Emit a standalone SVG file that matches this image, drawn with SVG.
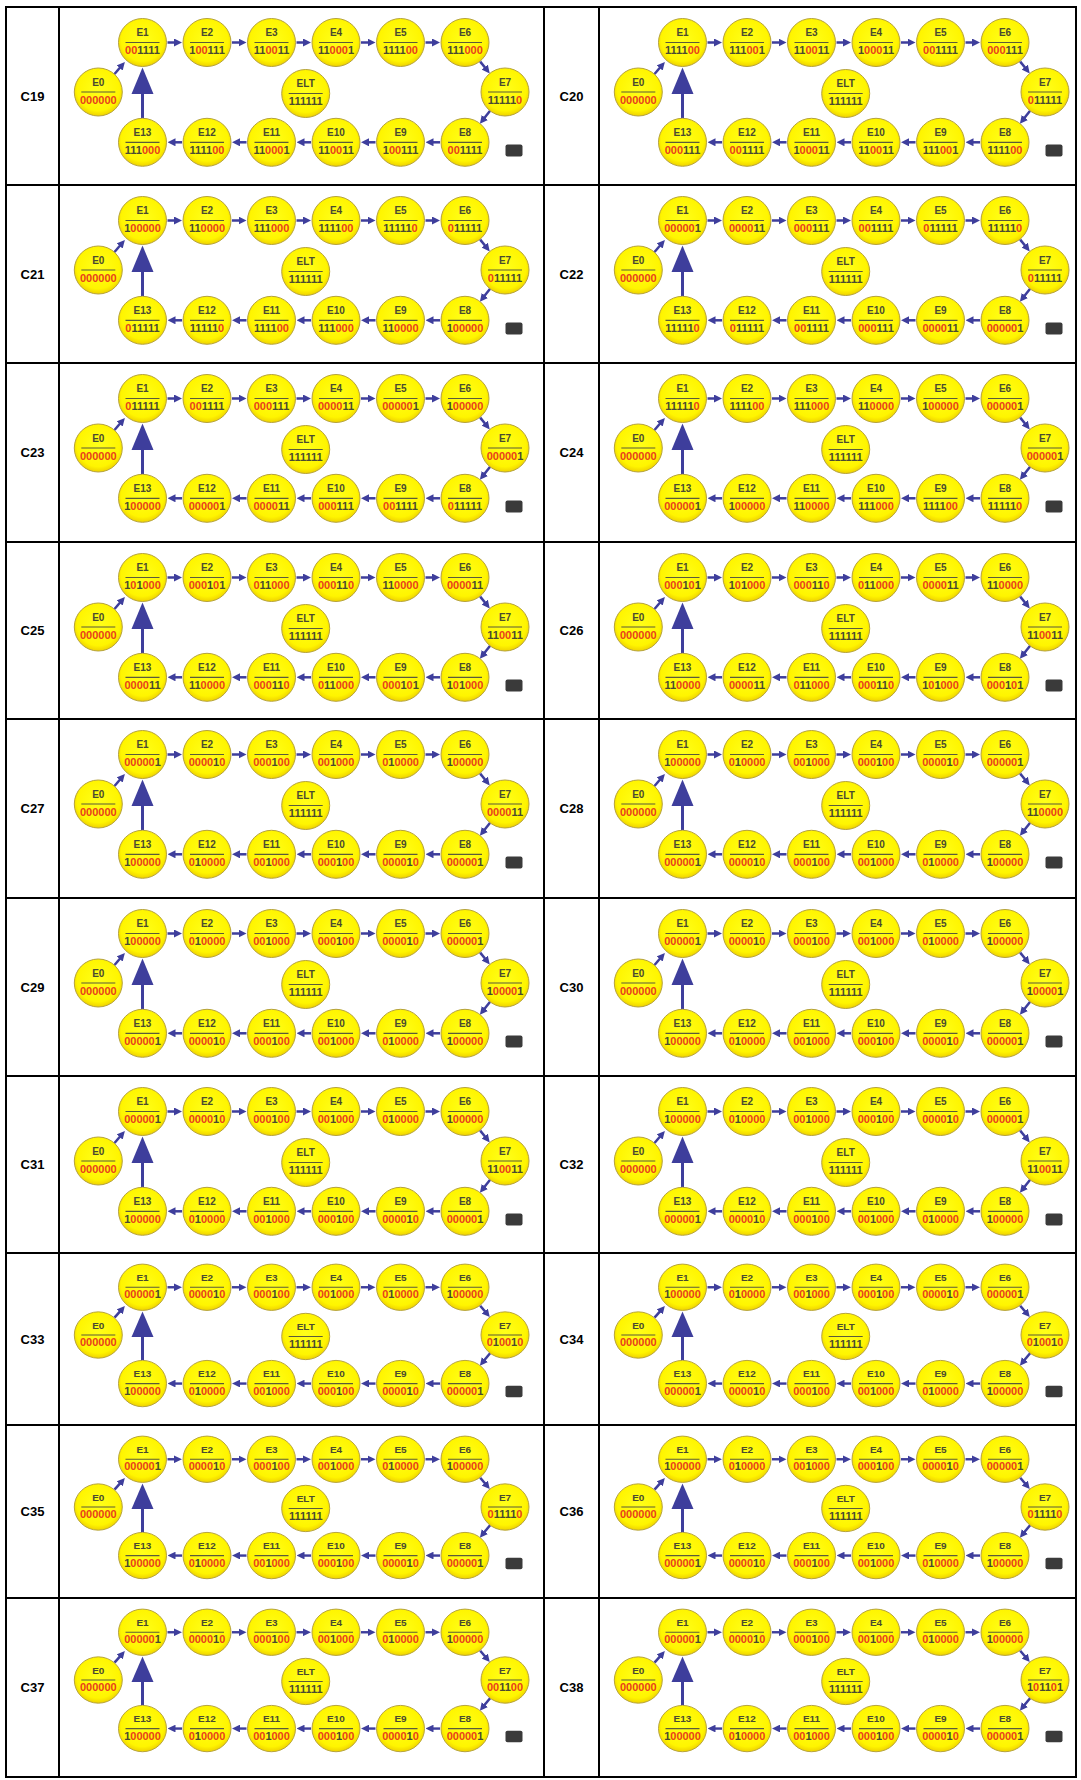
<svg xmlns="http://www.w3.org/2000/svg" xmlns:xlink="http://www.w3.org/1999/xlink" width="1081" height="1780" viewBox="0 0 1081 1780">
<style>
.l{font:bold 10px "Liberation Sans",Arial,sans-serif;fill:#4a4a30;text-anchor:middle}
.v{font:bold 11px "Liberation Sans",Arial,sans-serif;fill:#4a4a30;text-anchor:middle}
.z{fill:#e8401c}
.lab{font:bold 13px "Liberation Sans",Arial,sans-serif;fill:#000;text-anchor:middle}
.cn{stroke:#3e3e9c;stroke-width:2.5;fill:none}
.ic{fill:#3a3a3a}
.grid{stroke:#000;stroke-width:2;fill:none}
</style>
<defs>
<radialGradient id="yg" cx="50%" cy="45%" r="55%"><stop offset="0" stop-color="#ffff1a"/><stop offset="0.8" stop-color="#fff500"/><stop offset="1" stop-color="#efd200"/></radialGradient>
<marker id="ah" viewBox="0 0 8 8" refX="3" refY="4" markerWidth="8" markerHeight="8" markerUnits="userSpaceOnUse" orient="auto"><path d="M0,0 L8,4 L0,8 z" fill="#3e3e9c"/></marker>
<g id="b"><circle r="24" fill="url(#yg)" stroke="#b5a23c" stroke-width="1"/><line x1="-17" y1="0" x2="17" y2="0" stroke="#5b5b3b" stroke-width="1.2"/></g>
<g id="cn">
<path class="cn" marker-end="url(#ah)" d="M167.5,35.5H177"/>
<path class="cn" marker-end="url(#ah)" d="M232,35.5H241.5"/>
<path class="cn" marker-end="url(#ah)" d="M296.5,35.5H306"/>
<path class="cn" marker-end="url(#ah)" d="M361,35.5H370.5"/>
<path class="cn" marker-end="url(#ah)" d="M425.5,35.5H435"/>
<path class="cn" marker-end="url(#ah)" d="M440,135.3H430.5"/>
<path class="cn" marker-end="url(#ah)" d="M375.5,135.3H366"/>
<path class="cn" marker-end="url(#ah)" d="M311,135.3H301.5"/>
<path class="cn" marker-end="url(#ah)" d="M246.5,135.3H237"/>
<path class="cn" marker-end="url(#ah)" d="M182,135.3H172.5"/>
<path class="cn" marker-end="url(#ah)" d="M114.5,67L121.6,58.7"/>
<path class="cn" marker-end="url(#ah)" d="M480.2,54.6L486.6,62.5"/>
<path class="cn" marker-end="url(#ah)" d="M490.1,103.8L483,112.8"/>
<path class="cn" style="stroke-width:3" d="M142.5,111V86"/>
<path d="M142.5,60.5L153.5,87L131.5,87z" fill="#3e3e9c"/>
</g>
</defs>
<rect width="1081" height="1780" fill="#fff"/>
<g id="table">
<rect class="grid" x="6" y="7" width="1070" height="1770"/>
<path class="grid" d="M6,185H1076M6,363H1076M6,542H1076M6,719H1076M6,898H1076M6,1076H1076M6,1253H1076M6,1425H1076M6,1598H1076M59,7V1777M544,7V1777M599,7V1777"/>
</g>
<g id="labels">
<text class="lab" x="32.5" y="100.5">C19</text><text class="lab" x="571.5" y="100.5">C20</text>
<text class="lab" x="32.5" y="278.5">C21</text><text class="lab" x="571.5" y="278.5">C22</text>
<text class="lab" x="32.5" y="457">C23</text><text class="lab" x="571.5" y="457">C24</text>
<text class="lab" x="32.5" y="635">C25</text><text class="lab" x="571.5" y="635">C26</text>
<text class="lab" x="32.5" y="813">C27</text><text class="lab" x="571.5" y="813">C28</text>
<text class="lab" x="32.5" y="991.5">C29</text><text class="lab" x="571.5" y="991.5">C30</text>
<text class="lab" x="32.5" y="1169">C31</text><text class="lab" x="571.5" y="1169">C32</text>
<text class="lab" x="32.5" y="1343.5">C33</text><text class="lab" x="571.5" y="1343.5">C34</text>
<text class="lab" x="32.5" y="1516">C35</text><text class="lab" x="571.5" y="1516">C36</text>
<text class="lab" x="32.5" y="1692">C37</text><text class="lab" x="571.5" y="1692">C38</text>
</g>
<g id="connectors">
<use href="#cn" transform="translate(0,7)"/><use href="#cn" transform="translate(540,7)"/>
<use href="#cn" transform="translate(0,185)"/><use href="#cn" transform="translate(540,185)"/>
<use href="#cn" transform="translate(0,363)"/><use href="#cn" transform="translate(540,363)"/>
<use href="#cn" transform="translate(0,542)"/><use href="#cn" transform="translate(540,542)"/>
<use href="#cn" transform="translate(0,719)"/><use href="#cn" transform="translate(540,719)"/>
<use href="#cn" transform="translate(0,898)"/><use href="#cn" transform="translate(540,898)"/>
<use href="#cn" transform="translate(0,1076)"/><use href="#cn" transform="translate(540,1076)"/>
<use href="#cn" transform="translate(0,1253) scale(1,0.965)"/><use href="#cn" transform="translate(540,1253) scale(1,0.965)"/>
<use href="#cn" transform="translate(0,1425) scale(1,0.965)"/><use href="#cn" transform="translate(540,1425) scale(1,0.965)"/>
<use href="#cn" transform="translate(0,1598) scale(1,0.965)"/><use href="#cn" transform="translate(540,1598) scale(1,0.965)"/>
</g>

<g id="c19" transform="translate(0,7)">
<g id="c19-e0" transform="translate(98.3,85)"><use href="#b"/><text class="l" y="-6.5">E0</text><text class="v" y="11.5"><tspan class="z">000000</tspan></text></g>
<g id="c19-e1" transform="translate(142.5,35.5)"><use href="#b"/><text class="l" y="-6.5">E1</text><text class="v" y="11.5"><tspan class="z">00</tspan>1111</text></g>
<g id="c19-e2" transform="translate(207,35.5)"><use href="#b"/><text class="l" y="-6.5">E2</text><text class="v" y="11.5">1<tspan class="z">00</tspan>111</text></g>
<g id="c19-e3" transform="translate(271.5,35.5)"><use href="#b"/><text class="l" y="-6.5">E3</text><text class="v" y="11.5">11<tspan class="z">00</tspan>11</text></g>
<g id="c19-e4" transform="translate(336,35.5)"><use href="#b"/><text class="l" y="-6.5">E4</text><text class="v" y="11.5">11<tspan class="z">000</tspan>1</text></g>
<g id="c19-e5" transform="translate(400.5,35.5)"><use href="#b"/><text class="l" y="-6.5">E5</text><text class="v" y="11.5">1111<tspan class="z">00</tspan></text></g>
<g id="c19-e6" transform="translate(465,35.5)"><use href="#b"/><text class="l" y="-6.5">E6</text><text class="v" y="11.5">111<tspan class="z">000</tspan></text></g>
<g id="c19-e7" transform="translate(505,85)"><use href="#b"/><text class="l" y="-6.5">E7</text><text class="v" y="11.5">11111<tspan class="z">0</tspan></text></g>
<g id="c19-e8" transform="translate(465,135.3)"><use href="#b"/><text class="l" y="-6.5">E8</text><text class="v" y="11.5"><tspan class="z">00</tspan>1111</text></g>
<g id="c19-e9" transform="translate(400.5,135.3)"><use href="#b"/><text class="l" y="-6.5">E9</text><text class="v" y="11.5">1<tspan class="z">00</tspan>111</text></g>
<g id="c19-e10" transform="translate(336,135.3)"><use href="#b"/><text class="l" y="-6.5">E10</text><text class="v" y="11.5">11<tspan class="z">00</tspan>11</text></g>
<g id="c19-e11" transform="translate(271.5,135.3)"><use href="#b"/><text class="l" y="-6.5">E11</text><text class="v" y="11.5">11<tspan class="z">000</tspan>1</text></g>
<g id="c19-e12" transform="translate(207,135.3)"><use href="#b"/><text class="l" y="-6.5">E12</text><text class="v" y="11.5">1111<tspan class="z">00</tspan></text></g>
<g id="c19-e13" transform="translate(142.5,135.3)"><use href="#b"/><text class="l" y="-6.5">E13</text><text class="v" y="11.5">111<tspan class="z">000</tspan></text></g>
<g id="c19-elt" transform="translate(305.7,86.5)"><use href="#b"/><text class="l" y="-6.5">ELT</text><text class="v" y="11.5">111111</text></g>
<rect class="ic" x="505.5" y="137.5" width="17" height="12" rx="2"/>
</g>

<g id="c20" transform="translate(540,7)">
<g id="c20-e0" transform="translate(98.3,85)"><use href="#b"/><text class="l" y="-6.5">E0</text><text class="v" y="11.5"><tspan class="z">000000</tspan></text></g>
<g id="c20-e1" transform="translate(142.5,35.5)"><use href="#b"/><text class="l" y="-6.5">E1</text><text class="v" y="11.5">1111<tspan class="z">00</tspan></text></g>
<g id="c20-e2" transform="translate(207,35.5)"><use href="#b"/><text class="l" y="-6.5">E2</text><text class="v" y="11.5">111<tspan class="z">00</tspan>1</text></g>
<g id="c20-e3" transform="translate(271.5,35.5)"><use href="#b"/><text class="l" y="-6.5">E3</text><text class="v" y="11.5">11<tspan class="z">00</tspan>11</text></g>
<g id="c20-e4" transform="translate(336,35.5)"><use href="#b"/><text class="l" y="-6.5">E4</text><text class="v" y="11.5">1<tspan class="z">000</tspan>11</text></g>
<g id="c20-e5" transform="translate(400.5,35.5)"><use href="#b"/><text class="l" y="-6.5">E5</text><text class="v" y="11.5"><tspan class="z">00</tspan>1111</text></g>
<g id="c20-e6" transform="translate(465,35.5)"><use href="#b"/><text class="l" y="-6.5">E6</text><text class="v" y="11.5"><tspan class="z">000</tspan>111</text></g>
<g id="c20-e7" transform="translate(505,85)"><use href="#b"/><text class="l" y="-6.5">E7</text><text class="v" y="11.5"><tspan class="z">0</tspan>11111</text></g>
<g id="c20-e8" transform="translate(465,135.3)"><use href="#b"/><text class="l" y="-6.5">E8</text><text class="v" y="11.5">1111<tspan class="z">00</tspan></text></g>
<g id="c20-e9" transform="translate(400.5,135.3)"><use href="#b"/><text class="l" y="-6.5">E9</text><text class="v" y="11.5">111<tspan class="z">00</tspan>1</text></g>
<g id="c20-e10" transform="translate(336,135.3)"><use href="#b"/><text class="l" y="-6.5">E10</text><text class="v" y="11.5">11<tspan class="z">00</tspan>11</text></g>
<g id="c20-e11" transform="translate(271.5,135.3)"><use href="#b"/><text class="l" y="-6.5">E11</text><text class="v" y="11.5">1<tspan class="z">000</tspan>11</text></g>
<g id="c20-e12" transform="translate(207,135.3)"><use href="#b"/><text class="l" y="-6.5">E12</text><text class="v" y="11.5"><tspan class="z">00</tspan>1111</text></g>
<g id="c20-e13" transform="translate(142.5,135.3)"><use href="#b"/><text class="l" y="-6.5">E13</text><text class="v" y="11.5"><tspan class="z">000</tspan>111</text></g>
<g id="c20-elt" transform="translate(305.7,86.5)"><use href="#b"/><text class="l" y="-6.5">ELT</text><text class="v" y="11.5">111111</text></g>
<rect class="ic" x="505.5" y="137.5" width="17" height="12" rx="2"/>
</g>

<g id="c21" transform="translate(0,185)">
<g id="c21-e0" transform="translate(98.3,85)"><use href="#b"/><text class="l" y="-6.5">E0</text><text class="v" y="11.5"><tspan class="z">000000</tspan></text></g>
<g id="c21-e1" transform="translate(142.5,35.5)"><use href="#b"/><text class="l" y="-6.5">E1</text><text class="v" y="11.5">1<tspan class="z">00000</tspan></text></g>
<g id="c21-e2" transform="translate(207,35.5)"><use href="#b"/><text class="l" y="-6.5">E2</text><text class="v" y="11.5">11<tspan class="z">0000</tspan></text></g>
<g id="c21-e3" transform="translate(271.5,35.5)"><use href="#b"/><text class="l" y="-6.5">E3</text><text class="v" y="11.5">111<tspan class="z">000</tspan></text></g>
<g id="c21-e4" transform="translate(336,35.5)"><use href="#b"/><text class="l" y="-6.5">E4</text><text class="v" y="11.5">1111<tspan class="z">00</tspan></text></g>
<g id="c21-e5" transform="translate(400.5,35.5)"><use href="#b"/><text class="l" y="-6.5">E5</text><text class="v" y="11.5">11111<tspan class="z">0</tspan></text></g>
<g id="c21-e6" transform="translate(465,35.5)"><use href="#b"/><text class="l" y="-6.5">E6</text><text class="v" y="11.5"><tspan class="z">0</tspan>11111</text></g>
<g id="c21-e7" transform="translate(505,85)"><use href="#b"/><text class="l" y="-6.5">E7</text><text class="v" y="11.5"><tspan class="z">0</tspan>11111</text></g>
<g id="c21-e8" transform="translate(465,135.3)"><use href="#b"/><text class="l" y="-6.5">E8</text><text class="v" y="11.5">1<tspan class="z">00000</tspan></text></g>
<g id="c21-e9" transform="translate(400.5,135.3)"><use href="#b"/><text class="l" y="-6.5">E9</text><text class="v" y="11.5">11<tspan class="z">0000</tspan></text></g>
<g id="c21-e10" transform="translate(336,135.3)"><use href="#b"/><text class="l" y="-6.5">E10</text><text class="v" y="11.5">111<tspan class="z">000</tspan></text></g>
<g id="c21-e11" transform="translate(271.5,135.3)"><use href="#b"/><text class="l" y="-6.5">E11</text><text class="v" y="11.5">1111<tspan class="z">00</tspan></text></g>
<g id="c21-e12" transform="translate(207,135.3)"><use href="#b"/><text class="l" y="-6.5">E12</text><text class="v" y="11.5">11111<tspan class="z">0</tspan></text></g>
<g id="c21-e13" transform="translate(142.5,135.3)"><use href="#b"/><text class="l" y="-6.5">E13</text><text class="v" y="11.5"><tspan class="z">0</tspan>11111</text></g>
<g id="c21-elt" transform="translate(305.7,86.5)"><use href="#b"/><text class="l" y="-6.5">ELT</text><text class="v" y="11.5">111111</text></g>
<rect class="ic" x="505.5" y="137.5" width="17" height="12" rx="2"/>
</g>

<g id="c22" transform="translate(540,185)">
<g id="c22-e0" transform="translate(98.3,85)"><use href="#b"/><text class="l" y="-6.5">E0</text><text class="v" y="11.5"><tspan class="z">000000</tspan></text></g>
<g id="c22-e1" transform="translate(142.5,35.5)"><use href="#b"/><text class="l" y="-6.5">E1</text><text class="v" y="11.5"><tspan class="z">00000</tspan>1</text></g>
<g id="c22-e2" transform="translate(207,35.5)"><use href="#b"/><text class="l" y="-6.5">E2</text><text class="v" y="11.5"><tspan class="z">0000</tspan>11</text></g>
<g id="c22-e3" transform="translate(271.5,35.5)"><use href="#b"/><text class="l" y="-6.5">E3</text><text class="v" y="11.5"><tspan class="z">000</tspan>111</text></g>
<g id="c22-e4" transform="translate(336,35.5)"><use href="#b"/><text class="l" y="-6.5">E4</text><text class="v" y="11.5"><tspan class="z">00</tspan>1111</text></g>
<g id="c22-e5" transform="translate(400.5,35.5)"><use href="#b"/><text class="l" y="-6.5">E5</text><text class="v" y="11.5"><tspan class="z">0</tspan>11111</text></g>
<g id="c22-e6" transform="translate(465,35.5)"><use href="#b"/><text class="l" y="-6.5">E6</text><text class="v" y="11.5">11111<tspan class="z">0</tspan></text></g>
<g id="c22-e7" transform="translate(505,85)"><use href="#b"/><text class="l" y="-6.5">E7</text><text class="v" y="11.5"><tspan class="z">0</tspan>11111</text></g>
<g id="c22-e8" transform="translate(465,135.3)"><use href="#b"/><text class="l" y="-6.5">E8</text><text class="v" y="11.5"><tspan class="z">00000</tspan>1</text></g>
<g id="c22-e9" transform="translate(400.5,135.3)"><use href="#b"/><text class="l" y="-6.5">E9</text><text class="v" y="11.5"><tspan class="z">0000</tspan>11</text></g>
<g id="c22-e10" transform="translate(336,135.3)"><use href="#b"/><text class="l" y="-6.5">E10</text><text class="v" y="11.5"><tspan class="z">000</tspan>111</text></g>
<g id="c22-e11" transform="translate(271.5,135.3)"><use href="#b"/><text class="l" y="-6.5">E11</text><text class="v" y="11.5"><tspan class="z">00</tspan>1111</text></g>
<g id="c22-e12" transform="translate(207,135.3)"><use href="#b"/><text class="l" y="-6.5">E12</text><text class="v" y="11.5"><tspan class="z">0</tspan>11111</text></g>
<g id="c22-e13" transform="translate(142.5,135.3)"><use href="#b"/><text class="l" y="-6.5">E13</text><text class="v" y="11.5">11111<tspan class="z">0</tspan></text></g>
<g id="c22-elt" transform="translate(305.7,86.5)"><use href="#b"/><text class="l" y="-6.5">ELT</text><text class="v" y="11.5">111111</text></g>
<rect class="ic" x="505.5" y="137.5" width="17" height="12" rx="2"/>
</g>

<g id="c23" transform="translate(0,363)">
<g id="c23-e0" transform="translate(98.3,85)"><use href="#b"/><text class="l" y="-6.5">E0</text><text class="v" y="11.5"><tspan class="z">000000</tspan></text></g>
<g id="c23-e1" transform="translate(142.5,35.5)"><use href="#b"/><text class="l" y="-6.5">E1</text><text class="v" y="11.5"><tspan class="z">0</tspan>11111</text></g>
<g id="c23-e2" transform="translate(207,35.5)"><use href="#b"/><text class="l" y="-6.5">E2</text><text class="v" y="11.5"><tspan class="z">00</tspan>1111</text></g>
<g id="c23-e3" transform="translate(271.5,35.5)"><use href="#b"/><text class="l" y="-6.5">E3</text><text class="v" y="11.5"><tspan class="z">000</tspan>111</text></g>
<g id="c23-e4" transform="translate(336,35.5)"><use href="#b"/><text class="l" y="-6.5">E4</text><text class="v" y="11.5"><tspan class="z">0000</tspan>11</text></g>
<g id="c23-e5" transform="translate(400.5,35.5)"><use href="#b"/><text class="l" y="-6.5">E5</text><text class="v" y="11.5"><tspan class="z">00000</tspan>1</text></g>
<g id="c23-e6" transform="translate(465,35.5)"><use href="#b"/><text class="l" y="-6.5">E6</text><text class="v" y="11.5">1<tspan class="z">00000</tspan></text></g>
<g id="c23-e7" transform="translate(505,85)"><use href="#b"/><text class="l" y="-6.5">E7</text><text class="v" y="11.5"><tspan class="z">00000</tspan>1</text></g>
<g id="c23-e8" transform="translate(465,135.3)"><use href="#b"/><text class="l" y="-6.5">E8</text><text class="v" y="11.5"><tspan class="z">0</tspan>11111</text></g>
<g id="c23-e9" transform="translate(400.5,135.3)"><use href="#b"/><text class="l" y="-6.5">E9</text><text class="v" y="11.5"><tspan class="z">00</tspan>1111</text></g>
<g id="c23-e10" transform="translate(336,135.3)"><use href="#b"/><text class="l" y="-6.5">E10</text><text class="v" y="11.5"><tspan class="z">000</tspan>111</text></g>
<g id="c23-e11" transform="translate(271.5,135.3)"><use href="#b"/><text class="l" y="-6.5">E11</text><text class="v" y="11.5"><tspan class="z">0000</tspan>11</text></g>
<g id="c23-e12" transform="translate(207,135.3)"><use href="#b"/><text class="l" y="-6.5">E12</text><text class="v" y="11.5"><tspan class="z">00000</tspan>1</text></g>
<g id="c23-e13" transform="translate(142.5,135.3)"><use href="#b"/><text class="l" y="-6.5">E13</text><text class="v" y="11.5">1<tspan class="z">00000</tspan></text></g>
<g id="c23-elt" transform="translate(305.7,86.5)"><use href="#b"/><text class="l" y="-6.5">ELT</text><text class="v" y="11.5">111111</text></g>
<rect class="ic" x="505.5" y="137.5" width="17" height="12" rx="2"/>
</g>

<g id="c24" transform="translate(540,363)">
<g id="c24-e0" transform="translate(98.3,85)"><use href="#b"/><text class="l" y="-6.5">E0</text><text class="v" y="11.5"><tspan class="z">000000</tspan></text></g>
<g id="c24-e1" transform="translate(142.5,35.5)"><use href="#b"/><text class="l" y="-6.5">E1</text><text class="v" y="11.5">11111<tspan class="z">0</tspan></text></g>
<g id="c24-e2" transform="translate(207,35.5)"><use href="#b"/><text class="l" y="-6.5">E2</text><text class="v" y="11.5">1111<tspan class="z">00</tspan></text></g>
<g id="c24-e3" transform="translate(271.5,35.5)"><use href="#b"/><text class="l" y="-6.5">E3</text><text class="v" y="11.5">111<tspan class="z">000</tspan></text></g>
<g id="c24-e4" transform="translate(336,35.5)"><use href="#b"/><text class="l" y="-6.5">E4</text><text class="v" y="11.5">11<tspan class="z">0000</tspan></text></g>
<g id="c24-e5" transform="translate(400.5,35.5)"><use href="#b"/><text class="l" y="-6.5">E5</text><text class="v" y="11.5">1<tspan class="z">00000</tspan></text></g>
<g id="c24-e6" transform="translate(465,35.5)"><use href="#b"/><text class="l" y="-6.5">E6</text><text class="v" y="11.5"><tspan class="z">00000</tspan>1</text></g>
<g id="c24-e7" transform="translate(505,85)"><use href="#b"/><text class="l" y="-6.5">E7</text><text class="v" y="11.5"><tspan class="z">00000</tspan>1</text></g>
<g id="c24-e8" transform="translate(465,135.3)"><use href="#b"/><text class="l" y="-6.5">E8</text><text class="v" y="11.5">11111<tspan class="z">0</tspan></text></g>
<g id="c24-e9" transform="translate(400.5,135.3)"><use href="#b"/><text class="l" y="-6.5">E9</text><text class="v" y="11.5">1111<tspan class="z">00</tspan></text></g>
<g id="c24-e10" transform="translate(336,135.3)"><use href="#b"/><text class="l" y="-6.5">E10</text><text class="v" y="11.5">111<tspan class="z">000</tspan></text></g>
<g id="c24-e11" transform="translate(271.5,135.3)"><use href="#b"/><text class="l" y="-6.5">E11</text><text class="v" y="11.5">11<tspan class="z">0000</tspan></text></g>
<g id="c24-e12" transform="translate(207,135.3)"><use href="#b"/><text class="l" y="-6.5">E12</text><text class="v" y="11.5">1<tspan class="z">00000</tspan></text></g>
<g id="c24-e13" transform="translate(142.5,135.3)"><use href="#b"/><text class="l" y="-6.5">E13</text><text class="v" y="11.5"><tspan class="z">00000</tspan>1</text></g>
<g id="c24-elt" transform="translate(305.7,86.5)"><use href="#b"/><text class="l" y="-6.5">ELT</text><text class="v" y="11.5">111111</text></g>
<rect class="ic" x="505.5" y="137.5" width="17" height="12" rx="2"/>
</g>

<g id="c25" transform="translate(0,542)">
<g id="c25-e0" transform="translate(98.3,85)"><use href="#b"/><text class="l" y="-6.5">E0</text><text class="v" y="11.5"><tspan class="z">000000</tspan></text></g>
<g id="c25-e1" transform="translate(142.5,35.5)"><use href="#b"/><text class="l" y="-6.5">E1</text><text class="v" y="11.5">1<tspan class="z">0</tspan>1<tspan class="z">000</tspan></text></g>
<g id="c25-e2" transform="translate(207,35.5)"><use href="#b"/><text class="l" y="-6.5">E2</text><text class="v" y="11.5"><tspan class="z">000</tspan>1<tspan class="z">0</tspan>1</text></g>
<g id="c25-e3" transform="translate(271.5,35.5)"><use href="#b"/><text class="l" y="-6.5">E3</text><text class="v" y="11.5"><tspan class="z">0</tspan>11<tspan class="z">000</tspan></text></g>
<g id="c25-e4" transform="translate(336,35.5)"><use href="#b"/><text class="l" y="-6.5">E4</text><text class="v" y="11.5"><tspan class="z">000</tspan>11<tspan class="z">0</tspan></text></g>
<g id="c25-e5" transform="translate(400.5,35.5)"><use href="#b"/><text class="l" y="-6.5">E5</text><text class="v" y="11.5">11<tspan class="z">0000</tspan></text></g>
<g id="c25-e6" transform="translate(465,35.5)"><use href="#b"/><text class="l" y="-6.5">E6</text><text class="v" y="11.5"><tspan class="z">0000</tspan>11</text></g>
<g id="c25-e7" transform="translate(505,85)"><use href="#b"/><text class="l" y="-6.5">E7</text><text class="v" y="11.5">11<tspan class="z">00</tspan>11</text></g>
<g id="c25-e8" transform="translate(465,135.3)"><use href="#b"/><text class="l" y="-6.5">E8</text><text class="v" y="11.5">1<tspan class="z">0</tspan>1<tspan class="z">000</tspan></text></g>
<g id="c25-e9" transform="translate(400.5,135.3)"><use href="#b"/><text class="l" y="-6.5">E9</text><text class="v" y="11.5"><tspan class="z">000</tspan>1<tspan class="z">0</tspan>1</text></g>
<g id="c25-e10" transform="translate(336,135.3)"><use href="#b"/><text class="l" y="-6.5">E10</text><text class="v" y="11.5"><tspan class="z">0</tspan>11<tspan class="z">000</tspan></text></g>
<g id="c25-e11" transform="translate(271.5,135.3)"><use href="#b"/><text class="l" y="-6.5">E11</text><text class="v" y="11.5"><tspan class="z">000</tspan>11<tspan class="z">0</tspan></text></g>
<g id="c25-e12" transform="translate(207,135.3)"><use href="#b"/><text class="l" y="-6.5">E12</text><text class="v" y="11.5">11<tspan class="z">0000</tspan></text></g>
<g id="c25-e13" transform="translate(142.5,135.3)"><use href="#b"/><text class="l" y="-6.5">E13</text><text class="v" y="11.5"><tspan class="z">0000</tspan>11</text></g>
<g id="c25-elt" transform="translate(305.7,86.5)"><use href="#b"/><text class="l" y="-6.5">ELT</text><text class="v" y="11.5">111111</text></g>
<rect class="ic" x="505.5" y="137.5" width="17" height="12" rx="2"/>
</g>

<g id="c26" transform="translate(540,542)">
<g id="c26-e0" transform="translate(98.3,85)"><use href="#b"/><text class="l" y="-6.5">E0</text><text class="v" y="11.5"><tspan class="z">000000</tspan></text></g>
<g id="c26-e1" transform="translate(142.5,35.5)"><use href="#b"/><text class="l" y="-6.5">E1</text><text class="v" y="11.5"><tspan class="z">000</tspan>1<tspan class="z">0</tspan>1</text></g>
<g id="c26-e2" transform="translate(207,35.5)"><use href="#b"/><text class="l" y="-6.5">E2</text><text class="v" y="11.5">1<tspan class="z">0</tspan>1<tspan class="z">000</tspan></text></g>
<g id="c26-e3" transform="translate(271.5,35.5)"><use href="#b"/><text class="l" y="-6.5">E3</text><text class="v" y="11.5"><tspan class="z">000</tspan>11<tspan class="z">0</tspan></text></g>
<g id="c26-e4" transform="translate(336,35.5)"><use href="#b"/><text class="l" y="-6.5">E4</text><text class="v" y="11.5"><tspan class="z">0</tspan>11<tspan class="z">000</tspan></text></g>
<g id="c26-e5" transform="translate(400.5,35.5)"><use href="#b"/><text class="l" y="-6.5">E5</text><text class="v" y="11.5"><tspan class="z">0000</tspan>11</text></g>
<g id="c26-e6" transform="translate(465,35.5)"><use href="#b"/><text class="l" y="-6.5">E6</text><text class="v" y="11.5">11<tspan class="z">0000</tspan></text></g>
<g id="c26-e7" transform="translate(505,85)"><use href="#b"/><text class="l" y="-6.5">E7</text><text class="v" y="11.5">11<tspan class="z">00</tspan>11</text></g>
<g id="c26-e8" transform="translate(465,135.3)"><use href="#b"/><text class="l" y="-6.5">E8</text><text class="v" y="11.5"><tspan class="z">000</tspan>1<tspan class="z">0</tspan>1</text></g>
<g id="c26-e9" transform="translate(400.5,135.3)"><use href="#b"/><text class="l" y="-6.5">E9</text><text class="v" y="11.5">1<tspan class="z">0</tspan>1<tspan class="z">000</tspan></text></g>
<g id="c26-e10" transform="translate(336,135.3)"><use href="#b"/><text class="l" y="-6.5">E10</text><text class="v" y="11.5"><tspan class="z">000</tspan>11<tspan class="z">0</tspan></text></g>
<g id="c26-e11" transform="translate(271.5,135.3)"><use href="#b"/><text class="l" y="-6.5">E11</text><text class="v" y="11.5"><tspan class="z">0</tspan>11<tspan class="z">000</tspan></text></g>
<g id="c26-e12" transform="translate(207,135.3)"><use href="#b"/><text class="l" y="-6.5">E12</text><text class="v" y="11.5"><tspan class="z">0000</tspan>11</text></g>
<g id="c26-e13" transform="translate(142.5,135.3)"><use href="#b"/><text class="l" y="-6.5">E13</text><text class="v" y="11.5">11<tspan class="z">0000</tspan></text></g>
<g id="c26-elt" transform="translate(305.7,86.5)"><use href="#b"/><text class="l" y="-6.5">ELT</text><text class="v" y="11.5">111111</text></g>
<rect class="ic" x="505.5" y="137.5" width="17" height="12" rx="2"/>
</g>

<g id="c27" transform="translate(0,719)">
<g id="c27-e0" transform="translate(98.3,85)"><use href="#b"/><text class="l" y="-6.5">E0</text><text class="v" y="11.5"><tspan class="z">000000</tspan></text></g>
<g id="c27-e1" transform="translate(142.5,35.5)"><use href="#b"/><text class="l" y="-6.5">E1</text><text class="v" y="11.5"><tspan class="z">00000</tspan>1</text></g>
<g id="c27-e2" transform="translate(207,35.5)"><use href="#b"/><text class="l" y="-6.5">E2</text><text class="v" y="11.5"><tspan class="z">0000</tspan>1<tspan class="z">0</tspan></text></g>
<g id="c27-e3" transform="translate(271.5,35.5)"><use href="#b"/><text class="l" y="-6.5">E3</text><text class="v" y="11.5"><tspan class="z">000</tspan>1<tspan class="z">00</tspan></text></g>
<g id="c27-e4" transform="translate(336,35.5)"><use href="#b"/><text class="l" y="-6.5">E4</text><text class="v" y="11.5"><tspan class="z">00</tspan>1<tspan class="z">000</tspan></text></g>
<g id="c27-e5" transform="translate(400.5,35.5)"><use href="#b"/><text class="l" y="-6.5">E5</text><text class="v" y="11.5"><tspan class="z">0</tspan>1<tspan class="z">0000</tspan></text></g>
<g id="c27-e6" transform="translate(465,35.5)"><use href="#b"/><text class="l" y="-6.5">E6</text><text class="v" y="11.5">1<tspan class="z">00000</tspan></text></g>
<g id="c27-e7" transform="translate(505,85)"><use href="#b"/><text class="l" y="-6.5">E7</text><text class="v" y="11.5"><tspan class="z">0000</tspan>11</text></g>
<g id="c27-e8" transform="translate(465,135.3)"><use href="#b"/><text class="l" y="-6.5">E8</text><text class="v" y="11.5"><tspan class="z">00000</tspan>1</text></g>
<g id="c27-e9" transform="translate(400.5,135.3)"><use href="#b"/><text class="l" y="-6.5">E9</text><text class="v" y="11.5"><tspan class="z">0000</tspan>1<tspan class="z">0</tspan></text></g>
<g id="c27-e10" transform="translate(336,135.3)"><use href="#b"/><text class="l" y="-6.5">E10</text><text class="v" y="11.5"><tspan class="z">000</tspan>1<tspan class="z">00</tspan></text></g>
<g id="c27-e11" transform="translate(271.5,135.3)"><use href="#b"/><text class="l" y="-6.5">E11</text><text class="v" y="11.5"><tspan class="z">00</tspan>1<tspan class="z">000</tspan></text></g>
<g id="c27-e12" transform="translate(207,135.3)"><use href="#b"/><text class="l" y="-6.5">E12</text><text class="v" y="11.5"><tspan class="z">0</tspan>1<tspan class="z">0000</tspan></text></g>
<g id="c27-e13" transform="translate(142.5,135.3)"><use href="#b"/><text class="l" y="-6.5">E13</text><text class="v" y="11.5">1<tspan class="z">00000</tspan></text></g>
<g id="c27-elt" transform="translate(305.7,86.5)"><use href="#b"/><text class="l" y="-6.5">ELT</text><text class="v" y="11.5">111111</text></g>
<rect class="ic" x="505.5" y="137.5" width="17" height="12" rx="2"/>
</g>

<g id="c28" transform="translate(540,719)">
<g id="c28-e0" transform="translate(98.3,85)"><use href="#b"/><text class="l" y="-6.5">E0</text><text class="v" y="11.5"><tspan class="z">000000</tspan></text></g>
<g id="c28-e1" transform="translate(142.5,35.5)"><use href="#b"/><text class="l" y="-6.5">E1</text><text class="v" y="11.5">1<tspan class="z">00000</tspan></text></g>
<g id="c28-e2" transform="translate(207,35.5)"><use href="#b"/><text class="l" y="-6.5">E2</text><text class="v" y="11.5"><tspan class="z">0</tspan>1<tspan class="z">0000</tspan></text></g>
<g id="c28-e3" transform="translate(271.5,35.5)"><use href="#b"/><text class="l" y="-6.5">E3</text><text class="v" y="11.5"><tspan class="z">00</tspan>1<tspan class="z">000</tspan></text></g>
<g id="c28-e4" transform="translate(336,35.5)"><use href="#b"/><text class="l" y="-6.5">E4</text><text class="v" y="11.5"><tspan class="z">000</tspan>1<tspan class="z">00</tspan></text></g>
<g id="c28-e5" transform="translate(400.5,35.5)"><use href="#b"/><text class="l" y="-6.5">E5</text><text class="v" y="11.5"><tspan class="z">0000</tspan>1<tspan class="z">0</tspan></text></g>
<g id="c28-e6" transform="translate(465,35.5)"><use href="#b"/><text class="l" y="-6.5">E6</text><text class="v" y="11.5"><tspan class="z">00000</tspan>1</text></g>
<g id="c28-e7" transform="translate(505,85)"><use href="#b"/><text class="l" y="-6.5">E7</text><text class="v" y="11.5">11<tspan class="z">0000</tspan></text></g>
<g id="c28-e8" transform="translate(465,135.3)"><use href="#b"/><text class="l" y="-6.5">E8</text><text class="v" y="11.5">1<tspan class="z">00000</tspan></text></g>
<g id="c28-e9" transform="translate(400.5,135.3)"><use href="#b"/><text class="l" y="-6.5">E9</text><text class="v" y="11.5"><tspan class="z">0</tspan>1<tspan class="z">0000</tspan></text></g>
<g id="c28-e10" transform="translate(336,135.3)"><use href="#b"/><text class="l" y="-6.5">E10</text><text class="v" y="11.5"><tspan class="z">00</tspan>1<tspan class="z">000</tspan></text></g>
<g id="c28-e11" transform="translate(271.5,135.3)"><use href="#b"/><text class="l" y="-6.5">E11</text><text class="v" y="11.5"><tspan class="z">000</tspan>1<tspan class="z">00</tspan></text></g>
<g id="c28-e12" transform="translate(207,135.3)"><use href="#b"/><text class="l" y="-6.5">E12</text><text class="v" y="11.5"><tspan class="z">0000</tspan>1<tspan class="z">0</tspan></text></g>
<g id="c28-e13" transform="translate(142.5,135.3)"><use href="#b"/><text class="l" y="-6.5">E13</text><text class="v" y="11.5"><tspan class="z">00000</tspan>1</text></g>
<g id="c28-elt" transform="translate(305.7,86.5)"><use href="#b"/><text class="l" y="-6.5">ELT</text><text class="v" y="11.5">111111</text></g>
<rect class="ic" x="505.5" y="137.5" width="17" height="12" rx="2"/>
</g>

<g id="c29" transform="translate(0,898)">
<g id="c29-e0" transform="translate(98.3,85)"><use href="#b"/><text class="l" y="-6.5">E0</text><text class="v" y="11.5"><tspan class="z">000000</tspan></text></g>
<g id="c29-e1" transform="translate(142.5,35.5)"><use href="#b"/><text class="l" y="-6.5">E1</text><text class="v" y="11.5">1<tspan class="z">00000</tspan></text></g>
<g id="c29-e2" transform="translate(207,35.5)"><use href="#b"/><text class="l" y="-6.5">E2</text><text class="v" y="11.5"><tspan class="z">0</tspan>1<tspan class="z">0000</tspan></text></g>
<g id="c29-e3" transform="translate(271.5,35.5)"><use href="#b"/><text class="l" y="-6.5">E3</text><text class="v" y="11.5"><tspan class="z">00</tspan>1<tspan class="z">000</tspan></text></g>
<g id="c29-e4" transform="translate(336,35.5)"><use href="#b"/><text class="l" y="-6.5">E4</text><text class="v" y="11.5"><tspan class="z">000</tspan>1<tspan class="z">00</tspan></text></g>
<g id="c29-e5" transform="translate(400.5,35.5)"><use href="#b"/><text class="l" y="-6.5">E5</text><text class="v" y="11.5"><tspan class="z">0000</tspan>1<tspan class="z">0</tspan></text></g>
<g id="c29-e6" transform="translate(465,35.5)"><use href="#b"/><text class="l" y="-6.5">E6</text><text class="v" y="11.5"><tspan class="z">00000</tspan>1</text></g>
<g id="c29-e7" transform="translate(505,85)"><use href="#b"/><text class="l" y="-6.5">E7</text><text class="v" y="11.5">1<tspan class="z">0000</tspan>1</text></g>
<g id="c29-e8" transform="translate(465,135.3)"><use href="#b"/><text class="l" y="-6.5">E8</text><text class="v" y="11.5">1<tspan class="z">00000</tspan></text></g>
<g id="c29-e9" transform="translate(400.5,135.3)"><use href="#b"/><text class="l" y="-6.5">E9</text><text class="v" y="11.5"><tspan class="z">0</tspan>1<tspan class="z">0000</tspan></text></g>
<g id="c29-e10" transform="translate(336,135.3)"><use href="#b"/><text class="l" y="-6.5">E10</text><text class="v" y="11.5"><tspan class="z">00</tspan>1<tspan class="z">000</tspan></text></g>
<g id="c29-e11" transform="translate(271.5,135.3)"><use href="#b"/><text class="l" y="-6.5">E11</text><text class="v" y="11.5"><tspan class="z">000</tspan>1<tspan class="z">00</tspan></text></g>
<g id="c29-e12" transform="translate(207,135.3)"><use href="#b"/><text class="l" y="-6.5">E12</text><text class="v" y="11.5"><tspan class="z">0000</tspan>1<tspan class="z">0</tspan></text></g>
<g id="c29-e13" transform="translate(142.5,135.3)"><use href="#b"/><text class="l" y="-6.5">E13</text><text class="v" y="11.5"><tspan class="z">00000</tspan>1</text></g>
<g id="c29-elt" transform="translate(305.7,86.5)"><use href="#b"/><text class="l" y="-6.5">ELT</text><text class="v" y="11.5">111111</text></g>
<rect class="ic" x="505.5" y="137.5" width="17" height="12" rx="2"/>
</g>

<g id="c30" transform="translate(540,898)">
<g id="c30-e0" transform="translate(98.3,85)"><use href="#b"/><text class="l" y="-6.5">E0</text><text class="v" y="11.5"><tspan class="z">000000</tspan></text></g>
<g id="c30-e1" transform="translate(142.5,35.5)"><use href="#b"/><text class="l" y="-6.5">E1</text><text class="v" y="11.5"><tspan class="z">00000</tspan>1</text></g>
<g id="c30-e2" transform="translate(207,35.5)"><use href="#b"/><text class="l" y="-6.5">E2</text><text class="v" y="11.5"><tspan class="z">0000</tspan>1<tspan class="z">0</tspan></text></g>
<g id="c30-e3" transform="translate(271.5,35.5)"><use href="#b"/><text class="l" y="-6.5">E3</text><text class="v" y="11.5"><tspan class="z">000</tspan>1<tspan class="z">00</tspan></text></g>
<g id="c30-e4" transform="translate(336,35.5)"><use href="#b"/><text class="l" y="-6.5">E4</text><text class="v" y="11.5"><tspan class="z">00</tspan>1<tspan class="z">000</tspan></text></g>
<g id="c30-e5" transform="translate(400.5,35.5)"><use href="#b"/><text class="l" y="-6.5">E5</text><text class="v" y="11.5"><tspan class="z">0</tspan>1<tspan class="z">0000</tspan></text></g>
<g id="c30-e6" transform="translate(465,35.5)"><use href="#b"/><text class="l" y="-6.5">E6</text><text class="v" y="11.5">1<tspan class="z">00000</tspan></text></g>
<g id="c30-e7" transform="translate(505,85)"><use href="#b"/><text class="l" y="-6.5">E7</text><text class="v" y="11.5">1<tspan class="z">0000</tspan>1</text></g>
<g id="c30-e8" transform="translate(465,135.3)"><use href="#b"/><text class="l" y="-6.5">E8</text><text class="v" y="11.5"><tspan class="z">00000</tspan>1</text></g>
<g id="c30-e9" transform="translate(400.5,135.3)"><use href="#b"/><text class="l" y="-6.5">E9</text><text class="v" y="11.5"><tspan class="z">0000</tspan>1<tspan class="z">0</tspan></text></g>
<g id="c30-e10" transform="translate(336,135.3)"><use href="#b"/><text class="l" y="-6.5">E10</text><text class="v" y="11.5"><tspan class="z">000</tspan>1<tspan class="z">00</tspan></text></g>
<g id="c30-e11" transform="translate(271.5,135.3)"><use href="#b"/><text class="l" y="-6.5">E11</text><text class="v" y="11.5"><tspan class="z">00</tspan>1<tspan class="z">000</tspan></text></g>
<g id="c30-e12" transform="translate(207,135.3)"><use href="#b"/><text class="l" y="-6.5">E12</text><text class="v" y="11.5"><tspan class="z">0</tspan>1<tspan class="z">0000</tspan></text></g>
<g id="c30-e13" transform="translate(142.5,135.3)"><use href="#b"/><text class="l" y="-6.5">E13</text><text class="v" y="11.5">1<tspan class="z">00000</tspan></text></g>
<g id="c30-elt" transform="translate(305.7,86.5)"><use href="#b"/><text class="l" y="-6.5">ELT</text><text class="v" y="11.5">111111</text></g>
<rect class="ic" x="505.5" y="137.5" width="17" height="12" rx="2"/>
</g>

<g id="c31" transform="translate(0,1076)">
<g id="c31-e0" transform="translate(98.3,85)"><use href="#b"/><text class="l" y="-6.5">E0</text><text class="v" y="11.5"><tspan class="z">000000</tspan></text></g>
<g id="c31-e1" transform="translate(142.5,35.5)"><use href="#b"/><text class="l" y="-6.5">E1</text><text class="v" y="11.5"><tspan class="z">00000</tspan>1</text></g>
<g id="c31-e2" transform="translate(207,35.5)"><use href="#b"/><text class="l" y="-6.5">E2</text><text class="v" y="11.5"><tspan class="z">0000</tspan>1<tspan class="z">0</tspan></text></g>
<g id="c31-e3" transform="translate(271.5,35.5)"><use href="#b"/><text class="l" y="-6.5">E3</text><text class="v" y="11.5"><tspan class="z">000</tspan>1<tspan class="z">00</tspan></text></g>
<g id="c31-e4" transform="translate(336,35.5)"><use href="#b"/><text class="l" y="-6.5">E4</text><text class="v" y="11.5"><tspan class="z">00</tspan>1<tspan class="z">000</tspan></text></g>
<g id="c31-e5" transform="translate(400.5,35.5)"><use href="#b"/><text class="l" y="-6.5">E5</text><text class="v" y="11.5"><tspan class="z">0</tspan>1<tspan class="z">0000</tspan></text></g>
<g id="c31-e6" transform="translate(465,35.5)"><use href="#b"/><text class="l" y="-6.5">E6</text><text class="v" y="11.5">1<tspan class="z">00000</tspan></text></g>
<g id="c31-e7" transform="translate(505,85)"><use href="#b"/><text class="l" y="-6.5">E7</text><text class="v" y="11.5">11<tspan class="z">00</tspan>11</text></g>
<g id="c31-e8" transform="translate(465,135.3)"><use href="#b"/><text class="l" y="-6.5">E8</text><text class="v" y="11.5"><tspan class="z">00000</tspan>1</text></g>
<g id="c31-e9" transform="translate(400.5,135.3)"><use href="#b"/><text class="l" y="-6.5">E9</text><text class="v" y="11.5"><tspan class="z">0000</tspan>1<tspan class="z">0</tspan></text></g>
<g id="c31-e10" transform="translate(336,135.3)"><use href="#b"/><text class="l" y="-6.5">E10</text><text class="v" y="11.5"><tspan class="z">000</tspan>1<tspan class="z">00</tspan></text></g>
<g id="c31-e11" transform="translate(271.5,135.3)"><use href="#b"/><text class="l" y="-6.5">E11</text><text class="v" y="11.5"><tspan class="z">00</tspan>1<tspan class="z">000</tspan></text></g>
<g id="c31-e12" transform="translate(207,135.3)"><use href="#b"/><text class="l" y="-6.5">E12</text><text class="v" y="11.5"><tspan class="z">0</tspan>1<tspan class="z">0000</tspan></text></g>
<g id="c31-e13" transform="translate(142.5,135.3)"><use href="#b"/><text class="l" y="-6.5">E13</text><text class="v" y="11.5">1<tspan class="z">00000</tspan></text></g>
<g id="c31-elt" transform="translate(305.7,86.5)"><use href="#b"/><text class="l" y="-6.5">ELT</text><text class="v" y="11.5">111111</text></g>
<rect class="ic" x="505.5" y="137.5" width="17" height="12" rx="2"/>
</g>

<g id="c32" transform="translate(540,1076)">
<g id="c32-e0" transform="translate(98.3,85)"><use href="#b"/><text class="l" y="-6.5">E0</text><text class="v" y="11.5"><tspan class="z">000000</tspan></text></g>
<g id="c32-e1" transform="translate(142.5,35.5)"><use href="#b"/><text class="l" y="-6.5">E1</text><text class="v" y="11.5">1<tspan class="z">00000</tspan></text></g>
<g id="c32-e2" transform="translate(207,35.5)"><use href="#b"/><text class="l" y="-6.5">E2</text><text class="v" y="11.5"><tspan class="z">0</tspan>1<tspan class="z">0000</tspan></text></g>
<g id="c32-e3" transform="translate(271.5,35.5)"><use href="#b"/><text class="l" y="-6.5">E3</text><text class="v" y="11.5"><tspan class="z">00</tspan>1<tspan class="z">000</tspan></text></g>
<g id="c32-e4" transform="translate(336,35.5)"><use href="#b"/><text class="l" y="-6.5">E4</text><text class="v" y="11.5"><tspan class="z">000</tspan>1<tspan class="z">00</tspan></text></g>
<g id="c32-e5" transform="translate(400.5,35.5)"><use href="#b"/><text class="l" y="-6.5">E5</text><text class="v" y="11.5"><tspan class="z">0000</tspan>1<tspan class="z">0</tspan></text></g>
<g id="c32-e6" transform="translate(465,35.5)"><use href="#b"/><text class="l" y="-6.5">E6</text><text class="v" y="11.5"><tspan class="z">00000</tspan>1</text></g>
<g id="c32-e7" transform="translate(505,85)"><use href="#b"/><text class="l" y="-6.5">E7</text><text class="v" y="11.5">11<tspan class="z">00</tspan>11</text></g>
<g id="c32-e8" transform="translate(465,135.3)"><use href="#b"/><text class="l" y="-6.5">E8</text><text class="v" y="11.5">1<tspan class="z">00000</tspan></text></g>
<g id="c32-e9" transform="translate(400.5,135.3)"><use href="#b"/><text class="l" y="-6.5">E9</text><text class="v" y="11.5"><tspan class="z">0</tspan>1<tspan class="z">0000</tspan></text></g>
<g id="c32-e10" transform="translate(336,135.3)"><use href="#b"/><text class="l" y="-6.5">E10</text><text class="v" y="11.5"><tspan class="z">00</tspan>1<tspan class="z">000</tspan></text></g>
<g id="c32-e11" transform="translate(271.5,135.3)"><use href="#b"/><text class="l" y="-6.5">E11</text><text class="v" y="11.5"><tspan class="z">000</tspan>1<tspan class="z">00</tspan></text></g>
<g id="c32-e12" transform="translate(207,135.3)"><use href="#b"/><text class="l" y="-6.5">E12</text><text class="v" y="11.5"><tspan class="z">0000</tspan>1<tspan class="z">0</tspan></text></g>
<g id="c32-e13" transform="translate(142.5,135.3)"><use href="#b"/><text class="l" y="-6.5">E13</text><text class="v" y="11.5"><tspan class="z">00000</tspan>1</text></g>
<g id="c32-elt" transform="translate(305.7,86.5)"><use href="#b"/><text class="l" y="-6.5">ELT</text><text class="v" y="11.5">111111</text></g>
<rect class="ic" x="505.5" y="137.5" width="17" height="12" rx="2"/>
</g>

<g id="c33" transform="translate(0,1253) scale(1,0.965)">
<g id="c33-e0" transform="translate(98.3,85)"><use href="#b"/><text class="l" y="-6.5">E0</text><text class="v" y="11.5"><tspan class="z">000000</tspan></text></g>
<g id="c33-e1" transform="translate(142.5,35.5)"><use href="#b"/><text class="l" y="-6.5">E1</text><text class="v" y="11.5"><tspan class="z">00000</tspan>1</text></g>
<g id="c33-e2" transform="translate(207,35.5)"><use href="#b"/><text class="l" y="-6.5">E2</text><text class="v" y="11.5"><tspan class="z">0000</tspan>1<tspan class="z">0</tspan></text></g>
<g id="c33-e3" transform="translate(271.5,35.5)"><use href="#b"/><text class="l" y="-6.5">E3</text><text class="v" y="11.5"><tspan class="z">000</tspan>1<tspan class="z">00</tspan></text></g>
<g id="c33-e4" transform="translate(336,35.5)"><use href="#b"/><text class="l" y="-6.5">E4</text><text class="v" y="11.5"><tspan class="z">00</tspan>1<tspan class="z">000</tspan></text></g>
<g id="c33-e5" transform="translate(400.5,35.5)"><use href="#b"/><text class="l" y="-6.5">E5</text><text class="v" y="11.5"><tspan class="z">0</tspan>1<tspan class="z">0000</tspan></text></g>
<g id="c33-e6" transform="translate(465,35.5)"><use href="#b"/><text class="l" y="-6.5">E6</text><text class="v" y="11.5">1<tspan class="z">00000</tspan></text></g>
<g id="c33-e7" transform="translate(505,85)"><use href="#b"/><text class="l" y="-6.5">E7</text><text class="v" y="11.5"><tspan class="z">0</tspan>1<tspan class="z">00</tspan>1<tspan class="z">0</tspan></text></g>
<g id="c33-e8" transform="translate(465,135.3)"><use href="#b"/><text class="l" y="-6.5">E8</text><text class="v" y="11.5"><tspan class="z">00000</tspan>1</text></g>
<g id="c33-e9" transform="translate(400.5,135.3)"><use href="#b"/><text class="l" y="-6.5">E9</text><text class="v" y="11.5"><tspan class="z">0000</tspan>1<tspan class="z">0</tspan></text></g>
<g id="c33-e10" transform="translate(336,135.3)"><use href="#b"/><text class="l" y="-6.5">E10</text><text class="v" y="11.5"><tspan class="z">000</tspan>1<tspan class="z">00</tspan></text></g>
<g id="c33-e11" transform="translate(271.5,135.3)"><use href="#b"/><text class="l" y="-6.5">E11</text><text class="v" y="11.5"><tspan class="z">00</tspan>1<tspan class="z">000</tspan></text></g>
<g id="c33-e12" transform="translate(207,135.3)"><use href="#b"/><text class="l" y="-6.5">E12</text><text class="v" y="11.5"><tspan class="z">0</tspan>1<tspan class="z">0000</tspan></text></g>
<g id="c33-e13" transform="translate(142.5,135.3)"><use href="#b"/><text class="l" y="-6.5">E13</text><text class="v" y="11.5">1<tspan class="z">00000</tspan></text></g>
<g id="c33-elt" transform="translate(305.7,86.5)"><use href="#b"/><text class="l" y="-6.5">ELT</text><text class="v" y="11.5">111111</text></g>
<rect class="ic" x="505.5" y="137.5" width="17" height="12" rx="2"/>
</g>

<g id="c34" transform="translate(540,1253) scale(1,0.965)">
<g id="c34-e0" transform="translate(98.3,85)"><use href="#b"/><text class="l" y="-6.5">E0</text><text class="v" y="11.5"><tspan class="z">000000</tspan></text></g>
<g id="c34-e1" transform="translate(142.5,35.5)"><use href="#b"/><text class="l" y="-6.5">E1</text><text class="v" y="11.5">1<tspan class="z">00000</tspan></text></g>
<g id="c34-e2" transform="translate(207,35.5)"><use href="#b"/><text class="l" y="-6.5">E2</text><text class="v" y="11.5"><tspan class="z">0</tspan>1<tspan class="z">0000</tspan></text></g>
<g id="c34-e3" transform="translate(271.5,35.5)"><use href="#b"/><text class="l" y="-6.5">E3</text><text class="v" y="11.5"><tspan class="z">00</tspan>1<tspan class="z">000</tspan></text></g>
<g id="c34-e4" transform="translate(336,35.5)"><use href="#b"/><text class="l" y="-6.5">E4</text><text class="v" y="11.5"><tspan class="z">000</tspan>1<tspan class="z">00</tspan></text></g>
<g id="c34-e5" transform="translate(400.5,35.5)"><use href="#b"/><text class="l" y="-6.5">E5</text><text class="v" y="11.5"><tspan class="z">0000</tspan>1<tspan class="z">0</tspan></text></g>
<g id="c34-e6" transform="translate(465,35.5)"><use href="#b"/><text class="l" y="-6.5">E6</text><text class="v" y="11.5"><tspan class="z">00000</tspan>1</text></g>
<g id="c34-e7" transform="translate(505,85)"><use href="#b"/><text class="l" y="-6.5">E7</text><text class="v" y="11.5"><tspan class="z">0</tspan>1<tspan class="z">00</tspan>1<tspan class="z">0</tspan></text></g>
<g id="c34-e8" transform="translate(465,135.3)"><use href="#b"/><text class="l" y="-6.5">E8</text><text class="v" y="11.5">1<tspan class="z">00000</tspan></text></g>
<g id="c34-e9" transform="translate(400.5,135.3)"><use href="#b"/><text class="l" y="-6.5">E9</text><text class="v" y="11.5"><tspan class="z">0</tspan>1<tspan class="z">0000</tspan></text></g>
<g id="c34-e10" transform="translate(336,135.3)"><use href="#b"/><text class="l" y="-6.5">E10</text><text class="v" y="11.5"><tspan class="z">00</tspan>1<tspan class="z">000</tspan></text></g>
<g id="c34-e11" transform="translate(271.5,135.3)"><use href="#b"/><text class="l" y="-6.5">E11</text><text class="v" y="11.5"><tspan class="z">000</tspan>1<tspan class="z">00</tspan></text></g>
<g id="c34-e12" transform="translate(207,135.3)"><use href="#b"/><text class="l" y="-6.5">E12</text><text class="v" y="11.5"><tspan class="z">0000</tspan>1<tspan class="z">0</tspan></text></g>
<g id="c34-e13" transform="translate(142.5,135.3)"><use href="#b"/><text class="l" y="-6.5">E13</text><text class="v" y="11.5"><tspan class="z">00000</tspan>1</text></g>
<g id="c34-elt" transform="translate(305.7,86.5)"><use href="#b"/><text class="l" y="-6.5">ELT</text><text class="v" y="11.5">111111</text></g>
<rect class="ic" x="505.5" y="137.5" width="17" height="12" rx="2"/>
</g>

<g id="c35" transform="translate(0,1425) scale(1,0.965)">
<g id="c35-e0" transform="translate(98.3,85)"><use href="#b"/><text class="l" y="-6.5">E0</text><text class="v" y="11.5"><tspan class="z">000000</tspan></text></g>
<g id="c35-e1" transform="translate(142.5,35.5)"><use href="#b"/><text class="l" y="-6.5">E1</text><text class="v" y="11.5"><tspan class="z">00000</tspan>1</text></g>
<g id="c35-e2" transform="translate(207,35.5)"><use href="#b"/><text class="l" y="-6.5">E2</text><text class="v" y="11.5"><tspan class="z">0000</tspan>1<tspan class="z">0</tspan></text></g>
<g id="c35-e3" transform="translate(271.5,35.5)"><use href="#b"/><text class="l" y="-6.5">E3</text><text class="v" y="11.5"><tspan class="z">000</tspan>1<tspan class="z">00</tspan></text></g>
<g id="c35-e4" transform="translate(336,35.5)"><use href="#b"/><text class="l" y="-6.5">E4</text><text class="v" y="11.5"><tspan class="z">00</tspan>1<tspan class="z">000</tspan></text></g>
<g id="c35-e5" transform="translate(400.5,35.5)"><use href="#b"/><text class="l" y="-6.5">E5</text><text class="v" y="11.5"><tspan class="z">0</tspan>1<tspan class="z">0000</tspan></text></g>
<g id="c35-e6" transform="translate(465,35.5)"><use href="#b"/><text class="l" y="-6.5">E6</text><text class="v" y="11.5">1<tspan class="z">00000</tspan></text></g>
<g id="c35-e7" transform="translate(505,85)"><use href="#b"/><text class="l" y="-6.5">E7</text><text class="v" y="11.5"><tspan class="z">0</tspan>1111<tspan class="z">0</tspan></text></g>
<g id="c35-e8" transform="translate(465,135.3)"><use href="#b"/><text class="l" y="-6.5">E8</text><text class="v" y="11.5"><tspan class="z">00000</tspan>1</text></g>
<g id="c35-e9" transform="translate(400.5,135.3)"><use href="#b"/><text class="l" y="-6.5">E9</text><text class="v" y="11.5"><tspan class="z">0000</tspan>1<tspan class="z">0</tspan></text></g>
<g id="c35-e10" transform="translate(336,135.3)"><use href="#b"/><text class="l" y="-6.5">E10</text><text class="v" y="11.5"><tspan class="z">000</tspan>1<tspan class="z">00</tspan></text></g>
<g id="c35-e11" transform="translate(271.5,135.3)"><use href="#b"/><text class="l" y="-6.5">E11</text><text class="v" y="11.5"><tspan class="z">00</tspan>1<tspan class="z">000</tspan></text></g>
<g id="c35-e12" transform="translate(207,135.3)"><use href="#b"/><text class="l" y="-6.5">E12</text><text class="v" y="11.5"><tspan class="z">0</tspan>1<tspan class="z">0000</tspan></text></g>
<g id="c35-e13" transform="translate(142.5,135.3)"><use href="#b"/><text class="l" y="-6.5">E13</text><text class="v" y="11.5">1<tspan class="z">00000</tspan></text></g>
<g id="c35-elt" transform="translate(305.7,86.5)"><use href="#b"/><text class="l" y="-6.5">ELT</text><text class="v" y="11.5">111111</text></g>
<rect class="ic" x="505.5" y="137.5" width="17" height="12" rx="2"/>
</g>

<g id="c36" transform="translate(540,1425) scale(1,0.965)">
<g id="c36-e0" transform="translate(98.3,85)"><use href="#b"/><text class="l" y="-6.5">E0</text><text class="v" y="11.5"><tspan class="z">000000</tspan></text></g>
<g id="c36-e1" transform="translate(142.5,35.5)"><use href="#b"/><text class="l" y="-6.5">E1</text><text class="v" y="11.5">1<tspan class="z">00000</tspan></text></g>
<g id="c36-e2" transform="translate(207,35.5)"><use href="#b"/><text class="l" y="-6.5">E2</text><text class="v" y="11.5"><tspan class="z">0</tspan>1<tspan class="z">0000</tspan></text></g>
<g id="c36-e3" transform="translate(271.5,35.5)"><use href="#b"/><text class="l" y="-6.5">E3</text><text class="v" y="11.5"><tspan class="z">00</tspan>1<tspan class="z">000</tspan></text></g>
<g id="c36-e4" transform="translate(336,35.5)"><use href="#b"/><text class="l" y="-6.5">E4</text><text class="v" y="11.5"><tspan class="z">000</tspan>1<tspan class="z">00</tspan></text></g>
<g id="c36-e5" transform="translate(400.5,35.5)"><use href="#b"/><text class="l" y="-6.5">E5</text><text class="v" y="11.5"><tspan class="z">0000</tspan>1<tspan class="z">0</tspan></text></g>
<g id="c36-e6" transform="translate(465,35.5)"><use href="#b"/><text class="l" y="-6.5">E6</text><text class="v" y="11.5"><tspan class="z">00000</tspan>1</text></g>
<g id="c36-e7" transform="translate(505,85)"><use href="#b"/><text class="l" y="-6.5">E7</text><text class="v" y="11.5"><tspan class="z">0</tspan>1111<tspan class="z">0</tspan></text></g>
<g id="c36-e8" transform="translate(465,135.3)"><use href="#b"/><text class="l" y="-6.5">E8</text><text class="v" y="11.5">1<tspan class="z">00000</tspan></text></g>
<g id="c36-e9" transform="translate(400.5,135.3)"><use href="#b"/><text class="l" y="-6.5">E9</text><text class="v" y="11.5"><tspan class="z">0</tspan>1<tspan class="z">0000</tspan></text></g>
<g id="c36-e10" transform="translate(336,135.3)"><use href="#b"/><text class="l" y="-6.5">E10</text><text class="v" y="11.5"><tspan class="z">00</tspan>1<tspan class="z">000</tspan></text></g>
<g id="c36-e11" transform="translate(271.5,135.3)"><use href="#b"/><text class="l" y="-6.5">E11</text><text class="v" y="11.5"><tspan class="z">000</tspan>1<tspan class="z">00</tspan></text></g>
<g id="c36-e12" transform="translate(207,135.3)"><use href="#b"/><text class="l" y="-6.5">E12</text><text class="v" y="11.5"><tspan class="z">0000</tspan>1<tspan class="z">0</tspan></text></g>
<g id="c36-e13" transform="translate(142.5,135.3)"><use href="#b"/><text class="l" y="-6.5">E13</text><text class="v" y="11.5"><tspan class="z">00000</tspan>1</text></g>
<g id="c36-elt" transform="translate(305.7,86.5)"><use href="#b"/><text class="l" y="-6.5">ELT</text><text class="v" y="11.5">111111</text></g>
<rect class="ic" x="505.5" y="137.5" width="17" height="12" rx="2"/>
</g>

<g id="c37" transform="translate(0,1598) scale(1,0.965)">
<g id="c37-e0" transform="translate(98.3,85)"><use href="#b"/><text class="l" y="-6.5">E0</text><text class="v" y="11.5"><tspan class="z">000000</tspan></text></g>
<g id="c37-e1" transform="translate(142.5,35.5)"><use href="#b"/><text class="l" y="-6.5">E1</text><text class="v" y="11.5"><tspan class="z">00000</tspan>1</text></g>
<g id="c37-e2" transform="translate(207,35.5)"><use href="#b"/><text class="l" y="-6.5">E2</text><text class="v" y="11.5"><tspan class="z">0000</tspan>1<tspan class="z">0</tspan></text></g>
<g id="c37-e3" transform="translate(271.5,35.5)"><use href="#b"/><text class="l" y="-6.5">E3</text><text class="v" y="11.5"><tspan class="z">000</tspan>1<tspan class="z">00</tspan></text></g>
<g id="c37-e4" transform="translate(336,35.5)"><use href="#b"/><text class="l" y="-6.5">E4</text><text class="v" y="11.5"><tspan class="z">00</tspan>1<tspan class="z">000</tspan></text></g>
<g id="c37-e5" transform="translate(400.5,35.5)"><use href="#b"/><text class="l" y="-6.5">E5</text><text class="v" y="11.5"><tspan class="z">0</tspan>1<tspan class="z">0000</tspan></text></g>
<g id="c37-e6" transform="translate(465,35.5)"><use href="#b"/><text class="l" y="-6.5">E6</text><text class="v" y="11.5">1<tspan class="z">00000</tspan></text></g>
<g id="c37-e7" transform="translate(505,85)"><use href="#b"/><text class="l" y="-6.5">E7</text><text class="v" y="11.5"><tspan class="z">00</tspan>11<tspan class="z">00</tspan></text></g>
<g id="c37-e8" transform="translate(465,135.3)"><use href="#b"/><text class="l" y="-6.5">E8</text><text class="v" y="11.5"><tspan class="z">00000</tspan>1</text></g>
<g id="c37-e9" transform="translate(400.5,135.3)"><use href="#b"/><text class="l" y="-6.5">E9</text><text class="v" y="11.5"><tspan class="z">0000</tspan>1<tspan class="z">0</tspan></text></g>
<g id="c37-e10" transform="translate(336,135.3)"><use href="#b"/><text class="l" y="-6.5">E10</text><text class="v" y="11.5"><tspan class="z">000</tspan>1<tspan class="z">00</tspan></text></g>
<g id="c37-e11" transform="translate(271.5,135.3)"><use href="#b"/><text class="l" y="-6.5">E11</text><text class="v" y="11.5"><tspan class="z">00</tspan>1<tspan class="z">000</tspan></text></g>
<g id="c37-e12" transform="translate(207,135.3)"><use href="#b"/><text class="l" y="-6.5">E12</text><text class="v" y="11.5"><tspan class="z">0</tspan>1<tspan class="z">0000</tspan></text></g>
<g id="c37-e13" transform="translate(142.5,135.3)"><use href="#b"/><text class="l" y="-6.5">E13</text><text class="v" y="11.5">1<tspan class="z">00000</tspan></text></g>
<g id="c37-elt" transform="translate(305.7,86.5)"><use href="#b"/><text class="l" y="-6.5">ELT</text><text class="v" y="11.5">111111</text></g>
<rect class="ic" x="505.5" y="137.5" width="17" height="12" rx="2"/>
</g>

<g id="c38" transform="translate(540,1598) scale(1,0.965)">
<g id="c38-e0" transform="translate(98.3,85)"><use href="#b"/><text class="l" y="-6.5">E0</text><text class="v" y="11.5"><tspan class="z">000000</tspan></text></g>
<g id="c38-e1" transform="translate(142.5,35.5)"><use href="#b"/><text class="l" y="-6.5">E1</text><text class="v" y="11.5"><tspan class="z">00000</tspan>1</text></g>
<g id="c38-e2" transform="translate(207,35.5)"><use href="#b"/><text class="l" y="-6.5">E2</text><text class="v" y="11.5"><tspan class="z">0000</tspan>1<tspan class="z">0</tspan></text></g>
<g id="c38-e3" transform="translate(271.5,35.5)"><use href="#b"/><text class="l" y="-6.5">E3</text><text class="v" y="11.5"><tspan class="z">000</tspan>1<tspan class="z">00</tspan></text></g>
<g id="c38-e4" transform="translate(336,35.5)"><use href="#b"/><text class="l" y="-6.5">E4</text><text class="v" y="11.5"><tspan class="z">00</tspan>1<tspan class="z">000</tspan></text></g>
<g id="c38-e5" transform="translate(400.5,35.5)"><use href="#b"/><text class="l" y="-6.5">E5</text><text class="v" y="11.5"><tspan class="z">0</tspan>1<tspan class="z">0000</tspan></text></g>
<g id="c38-e6" transform="translate(465,35.5)"><use href="#b"/><text class="l" y="-6.5">E6</text><text class="v" y="11.5">1<tspan class="z">00000</tspan></text></g>
<g id="c38-e7" transform="translate(505,85)"><use href="#b"/><text class="l" y="-6.5">E7</text><text class="v" y="11.5">1<tspan class="z">0</tspan>11<tspan class="z">0</tspan>1</text></g>
<g id="c38-e8" transform="translate(465,135.3)"><use href="#b"/><text class="l" y="-6.5">E8</text><text class="v" y="11.5"><tspan class="z">00000</tspan>1</text></g>
<g id="c38-e9" transform="translate(400.5,135.3)"><use href="#b"/><text class="l" y="-6.5">E9</text><text class="v" y="11.5"><tspan class="z">0000</tspan>1<tspan class="z">0</tspan></text></g>
<g id="c38-e10" transform="translate(336,135.3)"><use href="#b"/><text class="l" y="-6.5">E10</text><text class="v" y="11.5"><tspan class="z">000</tspan>1<tspan class="z">00</tspan></text></g>
<g id="c38-e11" transform="translate(271.5,135.3)"><use href="#b"/><text class="l" y="-6.5">E11</text><text class="v" y="11.5"><tspan class="z">00</tspan>1<tspan class="z">000</tspan></text></g>
<g id="c38-e12" transform="translate(207,135.3)"><use href="#b"/><text class="l" y="-6.5">E12</text><text class="v" y="11.5"><tspan class="z">0</tspan>1<tspan class="z">0000</tspan></text></g>
<g id="c38-e13" transform="translate(142.5,135.3)"><use href="#b"/><text class="l" y="-6.5">E13</text><text class="v" y="11.5">1<tspan class="z">00000</tspan></text></g>
<g id="c38-elt" transform="translate(305.7,86.5)"><use href="#b"/><text class="l" y="-6.5">ELT</text><text class="v" y="11.5">111111</text></g>
<rect class="ic" x="505.5" y="137.5" width="17" height="12" rx="2"/>
</g>
</svg>
